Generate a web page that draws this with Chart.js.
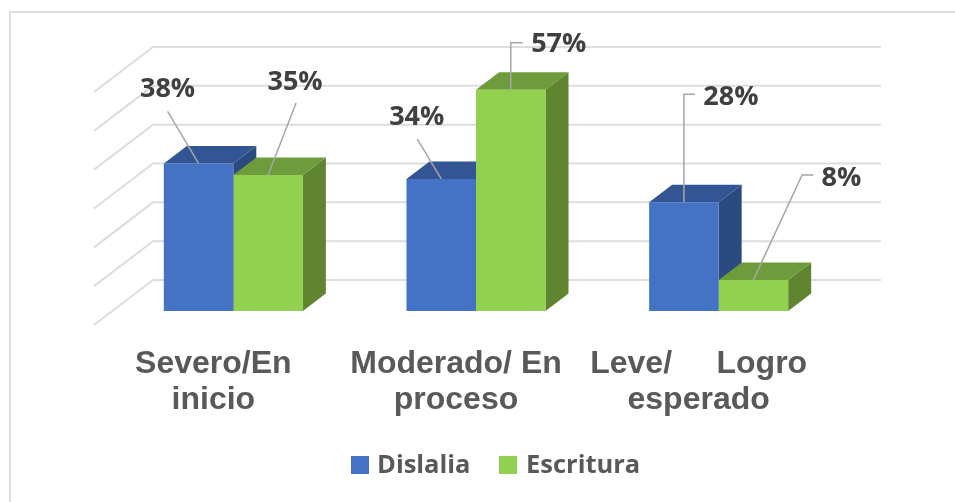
<!DOCTYPE html>
<html>
<head>
<meta charset="utf-8">
<style>
  html, body { margin: 0; padding: 0; background: #fff; }
  canvas { display: block; }
</style>
</head>
<body>
<canvas id="myChart" width="955" height="502"></canvas>
<script src="https://cdn.jsdelivr.net/npm/chart.js@4/dist/chart.umd.js"></script>
<script>
const categories = [['Severo/En', 'inicio'], ['Moderado/ En', 'proceso'], ['Leve/     Logro', 'esperado']];
const dislalia = [38, 34, 28];
const escritura = [35, 57, 8];
const tickValues = [0, 10, 20, 30, 40, 50, 60];

const colors = {
  blue: { front: '#4472C4', top: '#335593', side: '#2A4A80' },
  green: { front: '#92D050', top: '#6E9C3C', side: '#5F8530' },
  grid: '#DDDDDD',
  leader: '#A6A6A6',
  label: '#404040',
};

// depth of the bars, and of the back wall / floor front edge, from the bar plane
const barDepth = { x: 23, y: -17.5 };
const wallDepth = { x: 41, y: -31 };
const floorFront = { x: -18, y: 14 };

// label text position and leader elbow, relative to the top centre of each bar
const labelSpots = [
  [
    { text: [-31, -74], leader: [[-31, -52]] },
    { text: [-24.5, -62], leader: [[-24, -40]] },
    { text: [47, -105], leader: [[11, -108], [0, -108]] },
  ],
  [
    { text: [27, -93], leader: [[28, -72]] },
    { text: [48, -45], leader: [[12, -47], [0, -47]] },
    { text: [88, -102], leader: [[60, -105], [48.7, -105]] },
  ],
];

const frame3d = {
  id: 'frame3d',
  beforeDatasetsDraw(chart) {
    const { ctx, scales: { x, y } } = chart;
    ctx.save();

    // sheet border
    ctx.strokeStyle = '#DEDEDE';
    ctx.lineWidth = 2;
    ctx.beginPath();
    ctx.moveTo(10, 502);
    ctx.lineTo(10, 12);
    ctx.lineTo(955, 12);
    ctx.stroke();

    // wall and floor gridlines
    ctx.strokeStyle = colors.grid;
    tickValues.forEach((v) => {
      const py = y.getPixelForValue(v);
      ctx.beginPath();
      ctx.moveTo(x.left + floorFront.x, py + floorFront.y);
      ctx.lineTo(x.left + wallDepth.x, py + wallDepth.y);
      ctx.lineTo(x.right + wallDepth.x, py + wallDepth.y);
      ctx.stroke();
    });

    // top and side faces, left to right so nearer faces overlap
    const shades = [colors.blue, colors.green];
    categories.forEach((c, i) => {
      shades.forEach((shade, d) => {
        const bar = chart.getDatasetMeta(d).data[i];
        const left = bar.x - bar.width / 2;
        const right = bar.x + bar.width / 2;
        ctx.fillStyle = shade.side;
        ctx.beginPath();
        ctx.moveTo(right, bar.y);
        ctx.lineTo(right + barDepth.x, bar.y + barDepth.y);
        ctx.lineTo(right + barDepth.x, bar.base + barDepth.y);
        ctx.lineTo(right, bar.base);
        ctx.closePath();
        ctx.fill();
        ctx.fillStyle = shade.top;
        ctx.beginPath();
        ctx.moveTo(left, bar.y);
        ctx.lineTo(left + barDepth.x, bar.y + barDepth.y);
        ctx.lineTo(right + barDepth.x, bar.y + barDepth.y);
        ctx.lineTo(right, bar.y);
        ctx.closePath();
        ctx.fill();
      });
    });
    ctx.restore();
  },
  afterDatasetsDraw(chart) {
    const { ctx } = chart;
    ctx.save();
    chart.data.datasets.forEach((ds, d) => {
      chart.getDatasetMeta(d).data.forEach((bar, i) => {
        const spot = labelSpots[d][i];
        ctx.strokeStyle = colors.leader;
        ctx.lineWidth = 1.5;
        ctx.beginPath();
        spot.leader.forEach(([dx, dy], n) => {
          if (n === 0) ctx.moveTo(bar.x + dx, bar.y + dy);
          else ctx.lineTo(bar.x + dx, bar.y + dy);
        });
        ctx.lineTo(bar.x, bar.y);
        ctx.stroke();
        ctx.fillStyle = colors.label;
        ctx.font = 'bold 27px "Open Sans"';
        ctx.textAlign = 'center';
        ctx.textBaseline = 'middle';
        ctx.fillText(ds.data[i] + '%', bar.x + spot.text[0], bar.y + spot.text[1]);
      });
    });

    // legend
    const items = [[351, 377], [499, 526]];
    ctx.font = 'bold 25.5px "Open Sans"';
    ctx.textAlign = 'left';
    chart.data.datasets.forEach((ds, d) => {
      ctx.fillStyle = ds.backgroundColor;
      ctx.fillRect(items[d][0], 456, 18, 18);
      ctx.fillStyle = '#595959';
      ctx.fillText(ds.label, items[d][1], 466);
    });
    ctx.restore();
  },
};

new Chart(document.getElementById('myChart'), {
  type: 'bar',
  data: {
    labels: categories,
    datasets: [
      { label: 'Dislalia', data: dislalia, backgroundColor: colors.blue.front },
      { label: 'Escritura', data: escritura, backgroundColor: colors.green.front },
    ],
  },
  options: {
    responsive: false,
    animation: false,
    layout: { padding: { left: 112, right: 115, top: 78, bottom: 0 } },
    datasets: { bar: { categoryPercentage: 0.573, barPercentage: 1 } },
    plugins: { legend: { display: false }, tooltip: { enabled: false } },
    scales: {
      x: {
        grid: { display: false },
        border: { display: false },
        afterFit: (scale) => { scale.height = 191; },
        ticks: {
          autoSkip: false,
          maxRotation: 0,
          labelOffset: -20,
          padding: 27,
          color: '#595959',
          font: { family: 'Liberation Sans', weight: 'bold', size: 32, lineHeight: 1.13 },
        },
      },
      y: {
        min: 0,
        max: 60,
        grid: { display: false },
        border: { display: false },
        afterBuildTicks: (scale) => { scale.ticks = tickValues.map((value) => ({ value })); },
        afterFit: (scale) => { scale.width = 0; },
        ticks: { display: false },
      },
    },
  },
  plugins: [frame3d],
});
</script>
</body>
</html>
